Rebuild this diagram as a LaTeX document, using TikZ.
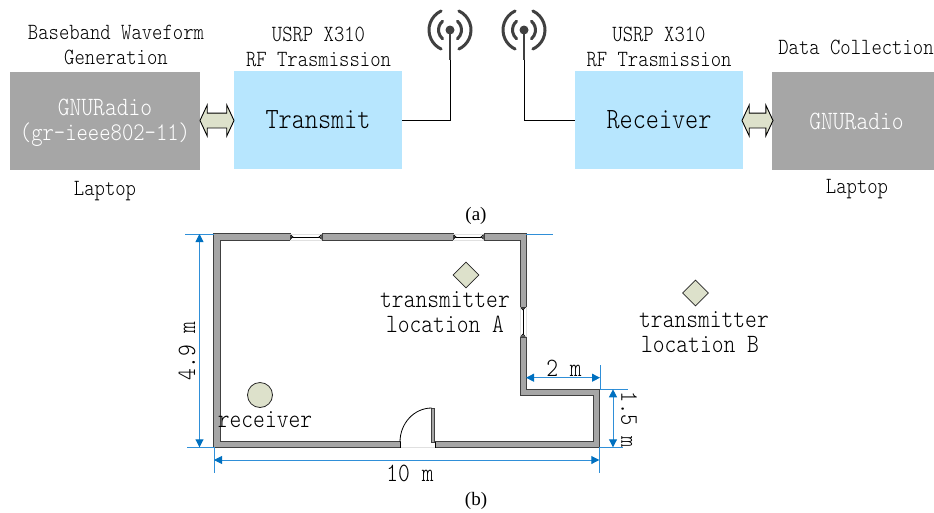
\documentclass[tikz,border=0pt]{standalone}
\usepackage{fontspec}
\setmainfont{Liberation Serif}
\setmonofont{Latin Modern Mono Light}[FakeStretch=0.85]
\usetikzlibrary{arrows.meta,shapes.geometric,shapes.arrows}
\definecolor{boxgray}{HTML}{A6A6A6}
\definecolor{boxblue}{HTML}{B7E6FE}
\definecolor{sage}{HTML}{DDE1CB}
\definecolor{dimline}{HTML}{2F8FD8}
\definecolor{dimtip}{HTML}{0070C0}
\definecolor{antgray}{HTML}{404040}
\definecolor{wallgray}{HTML}{A6A6A6}
\newcommand{\mono}[1]{\fontsize{#1}{#1}\selectfont\ttfamily}
\tikzset{
  x=1pt,y=-1pt,
  lbl/.style={inner sep=0pt,text=black,font=\mono{23.2}},
  lblb/.style={inner sep=0pt,text=black,font=\mono{26.4}},
  pcbox/.style={fill=boxgray,draw=none,inner sep=0pt,text=white},
  usrp/.style={fill=boxblue,draw=none,inner sep=0pt,minimum width=168pt,minimum height=98pt,text=black,font=\mono{29.4}},
  link/.style={draw=black,line width=0.9pt},
  dbl/.style={double arrow,draw=black,fill=sage,line width=0.9pt,inner sep=0pt,inner ysep=7pt,minimum width=30pt,double arrow head extend=8pt,double arrow tip angle=130},
  wave/.style={draw=antgray,line width=3pt,line cap=round},
  mast/.style={draw=antgray,line width=2pt},
  wall/.style={fill=wallgray,draw=black!75,line width=0.7pt},
  winline/.style={draw=black,line width=0.8pt,{Triangle[reversed,length=3pt,width=5pt,fill=white]}-{Triangle[reversed,length=3pt,width=5pt,fill=white]}},
  winedge/.style={draw=black!12,line width=0.6pt},
  ext/.style={draw=dimline,line width=0.8pt},
  dim/.style={draw=dimline,line width=0.9pt,{Triangle[length=8pt,width=8pt,color=dimtip]}-{Triangle[length=8pt,width=8pt,color=dimtip]}},
  spot/.style={fill=sage,draw=black!85,line width=0.8pt,inner sep=0pt},
}
\newcommand{\antenna}[1]{%
  \fill[antgray] (#1,30) circle (4.5);
  \draw[mast] (#1,30) -- (#1,60);
  \draw[wave] (#1,30) ++(-130:11.5) arc[start angle=-130,end angle=-230,radius=11.5];
  \draw[wave] (#1,30) ++(-50:11.5) arc[start angle=-50,end angle=50,radius=11.5];
  \draw[wave] (#1,30) ++(-115:21) arc[start angle=-115,end angle=-245,radius=21];
  \draw[wave] (#1,30) ++(-65:21) arc[start angle=-65,end angle=65,radius=21];
}
\begin{document}
\begin{tikzpicture}
\useasboundingbox (0,0) rectangle (934,512);
% (a) blocks
\node[pcbox,minimum width=190pt,minimum height=98pt] (pcl) at (105,121) {};
\node[pcbox,fill=none,font=\mono{26.4}] (gnu1) at (105,107) {GNURadio};
\node[pcbox,fill=none,font=\mono{25.4}] (gnu2) at (105,135) {(gr-ieee802-11)};
\node[usrp] (tx) at (318,120) {Transmit};
\node[usrp] (rx) at (659,120) {Receiver};
\node[pcbox,minimum width=162pt,minimum height=98pt] (pcr) at (853,121) {};
\node[pcbox,fill=none,font=\mono{26.4}] (gnu3) at (856.5,121) {GNURadio};
\node[dbl,minimum height=34pt] (d1) at (217,120.5) {};
\node[dbl,minimum height=31pt] (d2) at (757.5,120.5) {};
\node[lbl] (t1) at (116,32) {Baseband Waveform};
\node[lbl] (t2) at (116,57) {Generation};
\node[lbl] (t3) at (318.5,34) {USRP X310};
\node[lbl] (t4) at (318.5,60) {RF Trasmission};
\node[lbl] (t5) at (659,34) {USRP X310};
\node[lbl] (t6) at (659,60) {RF Trasmission};
\node[lbl] (t7) at (856,47) {Data Collection};
\node[lbl] (t8) at (105,191) {Laptop};
\node[lbl] (t9) at (857,189) {Laptop};
\node[inner sep=0pt,font=\fontsize{19}{19}\selectfont] (capa) at (476,216) {(a)};
\node[inner sep=0pt,font=\fontsize{19}{19}\selectfont] (capb) at (476,501) {(b)};
% antennas
\coordinate (a1) at (450,60);
\coordinate (a2) at (524,60);
\antenna{450}
\antenna{524}
\draw[link] (tx.east) -| (a1);
\draw[link] (rx.west) -| (a2);
% walls
\draw[wall] (213.8,233.8) -- (290,233.8) -- (290,240) -- (220,240) -- (220,441.5) -- (400,441.5) -- (400,447.5) -- (213.8,447.5) -- cycle;
\draw[wall] (322,233.8) rectangle (453,240);
\draw[wall] (484,233.8) -- (526,233.8) -- (526,307) -- (520,307) -- (520,240) -- (484,240) -- cycle;
\draw[wall] (520,337) -- (526,337) -- (526,389.2) -- (599.5,389.2) -- (599.5,447.5) -- (435,447.5) -- (435,441.5) -- (593.5,441.5) -- (593.5,395.2) -- (520,395.2) -- cycle;
% windows
\draw[winedge] (290,233.8) -- (322,233.8) (290,240) -- (322,240);
\draw[winedge] (453,233.8) -- (484,233.8) (453,240) -- (484,240);
\draw[winedge] (520,307) -- (520,337) (526,307) -- (526,337);
\draw[winedge] (400,447.5) -- (435,447.5);
\draw[winline] (290.5,236.9) -- (321.5,236.9);
\draw[winline] (453.5,236.9) -- (483.5,236.9);
\draw[winline] (523,307.5) -- (523,336.5);
% door
\draw[wall,line width=0.7pt] (431.7,408) rectangle (434,442);
\draw[black,line width=0.8pt] (400,442) arc[start angle=180,end angle=270,x radius=31.7,y radius=34];
\draw[black,line width=0.7pt] (400,441.5) -- (400,447.5) (435,441.5) -- (435,447.5);
% extension lines
\coordinate (e1a) at (185,234);  \coordinate (e1b) at (214,234);
\coordinate (e2a) at (526,234);  \coordinate (e2b) at (553,234);
\coordinate (e3a) at (187,447.3);\coordinate (e3b) at (214,447.3);
\coordinate (e4a) at (214,447.3);\coordinate (e4b) at (214,472.5);
\coordinate (e5a) at (599.3,447.3);\coordinate (e5b) at (599.3,472.5);
\coordinate (e6a) at (600,365);  \coordinate (e6b) at (600,389.3);
\coordinate (e7a) at (600,389.3);\coordinate (e7b) at (628,389.3);
\coordinate (e8a) at (599.3,447.3);\coordinate (e8b) at (623,447.3);
\foreach \n in {1,...,8}{\draw[ext] (e\n a) -- (e\n b);}
% dimensions
\coordinate (da) at (199.5,234); \coordinate (db) at (199.5,447.3);
\coordinate (dc) at (214,460);   \coordinate (dd) at (599.3,460);
\coordinate (de) at (526,377.7); \coordinate (df) at (600,377.7);
\coordinate (dg) at (613,389.3); \coordinate (dh) at (613,447.3);
\draw[dim] (da) -- (db);
\draw[dim] (dc) -- (dd);
\draw[dim] (de) -- (df);
\draw[dim] (dg) -- (dh);
% floor-plan items
\node[diamond,spot,minimum width=26pt,minimum height=26pt] (tA) at (466,275) {};
\node[diamond,spot,minimum width=26pt,minimum height=26pt] (tB) at (695.5,293) {};
\node[circle,spot,minimum size=25pt] (rcv) at (260,395) {};
\node[lblb] (l1) at (445,299.5) {transmitter};
\node[lblb] (l2) at (445,324) {location A};
\node[lblb] (l3) at (704,320) {transmitter};
\node[lblb] (l4) at (700,345) {location B};
\node[lblb] (l5) at (265,420) {receiver};
\node[lblb] (l6) at (410,473) {10 m};
\node[lblb] (l7) at (564,368) {2 m};
\node[lblb,rotate=90] (l8) at (187,351) {4.9 m};
\node[lblb,rotate=-90,font=\mono{25.2}] (l9) at (629,420) {1.5 m};
\end{tikzpicture}
\end{document}
